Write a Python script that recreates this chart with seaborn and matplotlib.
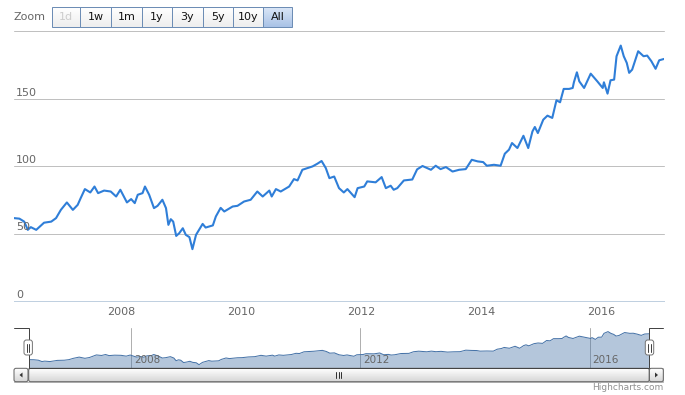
import numpy as np
import pandas as pd
import seaborn as sns
import matplotlib.pyplot as plt
import matplotlib.colors as mcolors
from matplotlib.patches import Rectangle, FancyBboxPatch, Polygon

W, H = 685, 395

# price series (decimal year, value)
years = [2006.22, 2006.31, 2006.39, 2006.45, 2006.50, 2006.59, 2006.72, 2006.84, 2006.92,
         2007.00, 2007.10, 2007.20, 2007.28, 2007.33, 2007.40, 2007.49, 2007.56, 2007.62,
         2007.72, 2007.83, 2007.92, 2007.99,
         2008.10, 2008.17, 2008.23, 2008.28, 2008.36, 2008.40, 2008.47, 2008.55, 2008.61,
         2008.69, 2008.75, 2008.79, 2008.83, 2008.87, 2008.92, 2008.97,
         2009.03, 2009.08, 2009.14, 2009.19, 2009.25, 2009.36, 2009.41, 2009.53, 2009.58,
         2009.66, 2009.72, 2009.86, 2009.94,
         2010.05, 2010.16, 2010.27, 2010.36, 2010.47, 2010.51, 2010.58, 2010.66, 2010.80,
         2010.88, 2010.94,
         2011.02, 2011.11, 2011.19, 2011.27, 2011.34, 2011.41, 2011.47, 2011.55, 2011.63,
         2011.71, 2011.77, 2011.83, 2011.89, 2011.94,
         2012.05, 2012.10, 2012.24, 2012.34, 2012.41, 2012.49, 2012.54, 2012.60, 2012.71,
         2012.85, 2012.93,
         2013.02, 2013.16, 2013.24, 2013.32, 2013.41, 2013.52, 2013.63, 2013.74, 2013.84,
         2013.94,
         2014.03, 2014.09, 2014.21, 2014.32, 2014.39, 2014.46, 2014.51, 2014.60, 2014.70,
         2014.78, 2014.85, 2014.89, 2014.94,
         2015.03, 2015.10, 2015.18, 2015.25, 2015.31, 2015.37, 2015.46, 2015.52, 2015.54,
         2015.59, 2015.63, 2015.71, 2015.82, 2015.93,
         2016.02, 2016.04, 2016.10, 2016.15, 2016.21, 2016.25, 2016.32, 2016.37, 2016.42,
         2016.46, 2016.51, 2016.61, 2016.70, 2016.76, 2016.83, 2016.90, 2016.96,
         2017.04]
prices = [61.4, 61.0, 58.8, 52.7, 54.7, 52.7, 58.0, 58.8, 61.4,
          67.5, 73.0, 67.5, 71.2, 76.2, 82.9, 80.4, 84.8, 79.9,
          81.8, 81.1, 77.4, 82.4,
          73.0, 75.5, 72.5, 78.7, 79.9, 84.8, 78.7, 68.8, 70.5,
          75.0, 68.8, 56.4, 60.6, 58.8, 48.2, 50.2,
          53.9, 49.0, 47.3, 38.4, 49.0, 57.1, 54.4, 56.0, 62.6,
          69.0, 66.3, 70.0, 70.5,
          73.7, 75.0, 81.1, 77.4, 81.8, 77.4, 82.9, 81.1, 84.8,
          90.3, 89.3,
          97.2, 98.5, 99.7, 101.7, 103.7, 98.5, 91.0, 92.2, 83.6,
          80.4, 82.9, 79.9, 76.9, 83.6,
          84.8, 88.6, 87.9, 91.8, 83.6, 85.4, 82.4, 83.6, 89.3,
          90.0, 97.5,
          100.0, 97.2, 100.2, 97.7, 99.2, 95.9, 97.2, 97.7, 104.6,
          103.4,
          102.9, 100.2, 100.9, 100.2, 109.1, 112.1, 117.0, 113.3, 122.4,
          113.3, 125.6, 128.9, 124.4,
          134.3, 137.3, 135.6, 148.7, 147.2, 157.1, 157.1, 157.8, 162.0,
          169.4, 162.7, 157.8, 168.4, 162.7,
          157.8, 162.0, 153.6, 163.5, 164.0, 181.3, 189.2, 181.3, 176.4,
          169.0, 171.4, 185.0, 181.3, 181.8, 177.6, 172.0, 178.3,
          179.3]

y_ticks = [0, 50, 100, 150, 200]
x_ticks = [2008, 2010, 2012, 2014, 2016]
nav_ticks = [2008, 2012, 2016]
zoom_buttons = ["1d", "1w", "1m", "1y", "3y", "5y", "10y", "All"]

df = pd.DataFrame({"year": years, "price": prices})

sns.set_style("white")
plt.rcParams["font.family"] = ["DejaVu Sans"]

PX = 0.72  # one pixel in points at dpi 100


def box(x0, y0, x1, y1):
    # pixel box with top-left origin -> figure fraction
    return [x0 / W, 1 - y1 / H, (x1 - x0) / W, (y1 - y0) / H]


fig = plt.figure(figsize=(W / 100, H / 100), dpi=100)

# ---- main chart ----
ax = fig.add_axes(box(14, 31, 664, 301))
sns.lineplot(data=df, x="year", y="price", color="#2f7ed8", linewidth=1.5, ax=ax, zorder=3)
ax.set_xlim(df.year.min(), df.year.max())
ax.set_ylim(0, 200)
for v in y_ticks:
    ax.axhline(v, color="#c0c0c0", lw=PX, zorder=0, clip_on=False)
    if v < 200:
        ax.annotate(str(v), xy=(0, v), xycoords=ax.get_yaxis_transform(),
                    xytext=(2 * PX, 6 * PX), textcoords="offset points",
                    ha="left", va="center", fontsize=8, color="#666666")
ax.set_yticks([])
ax.set_xticks(x_ticks)
ax.set_xticklabels([str(t) for t in x_ticks])
ax.tick_params(axis="x", length=5 * PX, width=PX, color="#c0d0e0",
               labelcolor="#666666", labelsize=8, pad=1, direction="out")
ax.set_xlabel("")
ax.set_ylabel("")
for s in ["left", "right", "top"]:
    ax.spines[s].set_visible(False)
ax.spines["bottom"].set_color("#c0d0e0")
ax.spines["bottom"].set_linewidth(PX)
ax.spines["bottom"].set_zorder(4)

# ---- navigator ----
nav = fig.add_axes(box(28.7, 328.3, 649.3, 368))
span = df.price.max() - df.price.min()
nmin, nmax = df.price.min() - 0.1 * span, df.price.max() + 0.1 * span
nav.fill_between(df.year, df.price, nmin, color="#4572a7", alpha=0.4, lw=0, zorder=2)
sns.lineplot(data=df, x="year", y="price", color="#4572a7", linewidth=PX, ax=nav, zorder=3)
nav.set_xlim(df.year.min(), df.year.max())
nav.set_ylim(nmin, nmax)
for t in nav_ticks:
    nav.axvline(t, color="#b0b0b0", lw=PX, zorder=1)
    nav.annotate(str(t), xy=(t, 0.2), xycoords=nav.get_xaxis_transform(),
                 xytext=(3 * PX, 0), textcoords="offset points",
                 ha="left", va="center", fontsize=7.5, color="#666666")
nav.set_xticks([])
nav.set_yticks([])
nav.set_xlabel("")
nav.set_ylabel("")
for s in nav.spines.values():
    s.set_visible(False)

# ---- overlay for range selector, outline, scrollbar ----
ui = fig.add_axes([0, 0, 1, 1], zorder=10)
ui.set_axis_off()
ui.patch.set_visible(False)


def grad(x0, y0, x1, y1, c_top, c_bot, z=1):
    t = np.linspace(0, 1, 32)[:, None, None]
    img = np.array(mcolors.to_rgb(c_top)) * (1 - t) + np.array(mcolors.to_rgb(c_bot)) * t
    ui.imshow(img, extent=(x0, x1, y1, y0), aspect="auto", zorder=z, interpolation="bilinear")


ui.text(14, 17, "Zoom", ha="left", va="center", fontsize=8, color="#666666")
edges = [52.3, 80, 111, 141.7, 172.3, 202.7, 232.7, 263.3, 292.3]
for i, lab in enumerate(zoom_buttons):
    x0, x1 = edges[i], edges[i + 1]
    if lab == "All":
        grad(x0, 7.3, x1, 26.7, "#dbe7f7", "#a9c2e6")
    else:
        grad(x0, 7.3, x1, 26.7, "#ffffff", "#eeeeee")
    ui.add_patch(Rectangle((x0, 7.3), x1 - x0, 19.4, fill=False, ec="#6d8db5", lw=PX, zorder=2))
    ui.text((x0 + x1) / 2, 17.3, lab, ha="center", va="center", fontsize=8,
            color="#cccccc" if lab == "1d" else "#111111", zorder=3)

# navigator outline
ui.plot([14, 28.7, 28.7, 649.3, 649.3, 663.3], [328.3, 328.3, 368, 368, 328.3, 328.3],
        color="#444444", lw=PX, zorder=5, solid_joinstyle="miter")

# scrollbar
ui.add_patch(Rectangle((14, 368.3), 649.3, 13.4, fc="#eeeeee", ec="#bbbbbb", lw=PX, zorder=1))
grad(28.7, 368.3, 649.3, 381.7, "#ffffff", "#d6d6d6", z=2)
ui.add_patch(FancyBboxPatch((28.7, 368.3), 620.6, 13.4, boxstyle="round,pad=0,rounding_size=2",
                            fill=False, ec="#666666", lw=PX, zorder=3))
for bx in (14, 649.3):
    grad(bx, 368.3, bx + 14, 381.7, "#ffffff", "#d6d6d6", z=2)
    ui.add_patch(FancyBboxPatch((bx, 368.3), 14, 13.4, boxstyle="round,pad=0,rounding_size=2",
                                fill=False, ec="#666666", lw=PX, zorder=3))
ui.add_patch(Polygon([[22.5, 372.5], [22.5, 377.5], [19.5, 375]], closed=True, fc="#333333", lw=0, zorder=4))
ui.add_patch(Polygon([[655, 372.5], [655, 377.5], [658, 375]], closed=True, fc="#333333", lw=0, zorder=4))
for dx in (-2.5, 0, 2.5):
    ui.plot([339 + dx, 339 + dx], [372, 378], color="#333333", lw=PX, zorder=4)

# handles
for hx in (28.2, 649.5):
    ui.add_patch(FancyBboxPatch((hx - 4.2, 340), 8.4, 15, boxstyle="round,pad=0,rounding_size=2.5",
                                fc="#ffffff", ec="#777777", lw=PX, zorder=6))
    for dx in (-1.2, 1.2):
        ui.plot([hx + dx, hx + dx], [343.5, 351.5], color="#444444", lw=PX, zorder=7)

ui.text(663.3, 388, "Highcharts.com", ha="right", va="center", fontsize=6.5, color="#909090")

ui.set_xlim(0, W)
ui.set_ylim(H, 0)

fig.savefig("out.png", dpi=100)
